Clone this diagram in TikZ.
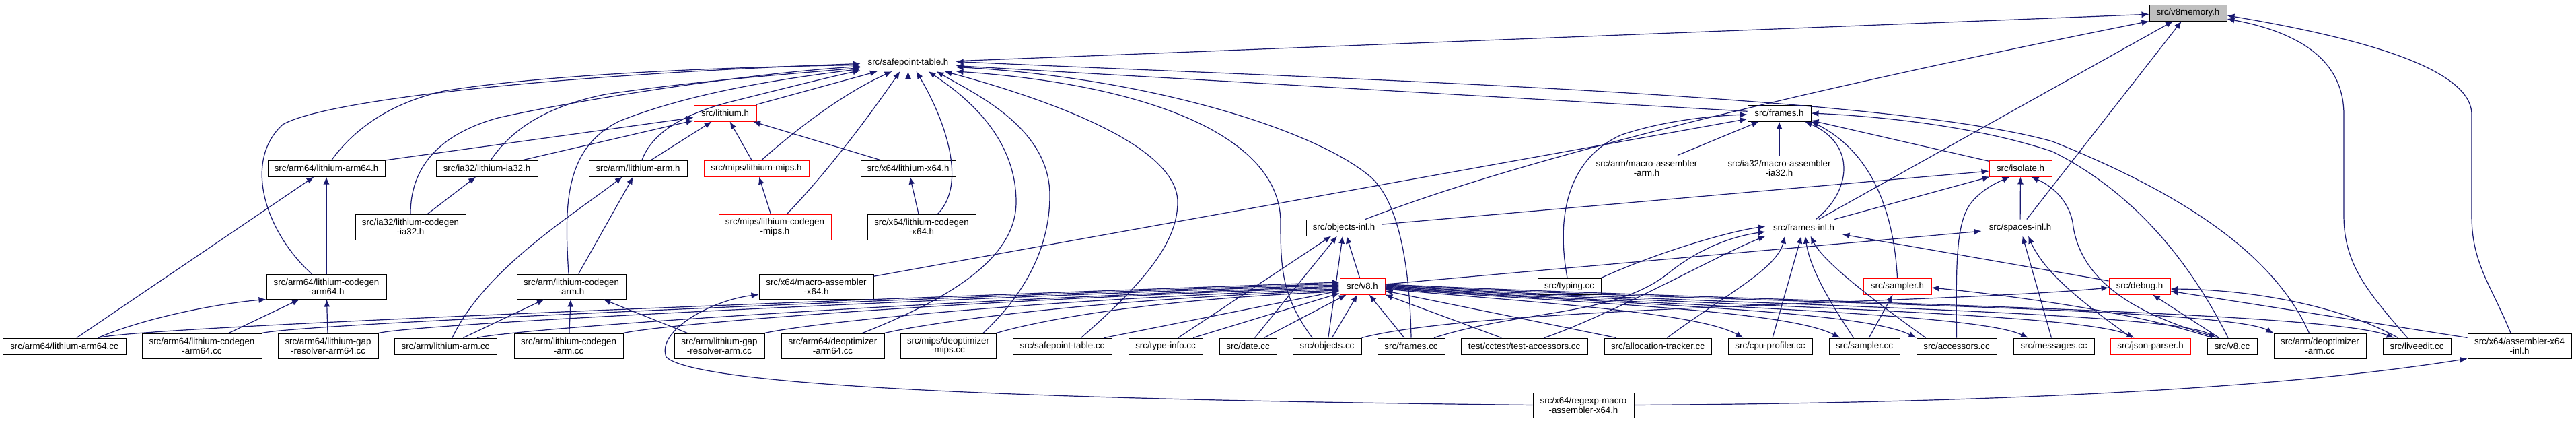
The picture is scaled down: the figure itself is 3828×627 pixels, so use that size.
\documentclass[tikz,border=0pt]{standalone}
\usepackage{fontspec}
\setmainfont{Liberation Sans}
\usetikzlibrary{arrows.meta}
\definecolor{eblue}{HTML}{191970}
\definecolor{ngray}{HTML}{BFBFBF}
\begin{document}
\begin{tikzpicture}[x=0.5pt,y=-0.5pt,
  nd/.style={draw=black, fill=white, line width=0.5pt, inner sep=0pt, align=center,
             font=\fontsize{6.65pt}{6.9pt}\selectfont, text=black},
  rd/.style={nd, draw=red},
  gr/.style={nd, fill=ngray},
  sz/.style 2 args={minimum width=#1*0.5pt, minimum height=#2*0.5pt},
  e/.style={draw=eblue, line width=0.6pt, -{Latex[length=5.5pt,width=4.5pt]}}]
\useasboundingbox (0,0) rectangle (3828,627);
\fill[white] (0,0) rectangle (3828,627);

% ---------------- nodes ----------------
\node[gr, sz={115}{24}] (vm) at (3251.5,19) {src/v8memory.h};
\node[nd, sz={141}{24}] (spt) at (1349.5,93.5) {src/safepoint-table.h};
\node[rd, sz={93}{24}] (lit) at (1077.5,168) {src/lithium.h};
\node[nd, sz={94}{24}] (frh) at (2644,168) {src/frames.h};
\node[nd, sz={174}{24}] (la64h) at (485,250) {src/arm64/lithium-arm64.h};
\node[nd, sz={151}{24}] (lia32h) at (723.5,250) {src/ia32/lithium-ia32.h};
\node[nd, sz={146}{24}] (larmh) at (948,250) {src/arm/lithium-arm.h};
\node[rd, sz={156}{24}] (lmipsh) at (1124,250) {src/mips/lithium-mips.h};
\node[nd, sz={141}{24}] (lx64h) at (1349.5,250) {src/x64/lithium-x64.h};
\node[rd, sz={172}{37}] (maarm) at (2447,249.5) {src/arm/macro-assembler\\-arm.h};
\node[nd, sz={174}{37}] (maia32) at (2644,249.5) {src/ia32/macro-assembler\\-ia32.h};
\node[rd, sz={93}{24}] (iso) at (3002.5,250) {src/isolate.h};
\node[nd, sz={164}{38}] (lcia32) at (610,337) {src/ia32/lithium-codegen\\-ia32.h};
\node[rd, sz={167}{38}] (lcmips) at (1151.5,337) {src/mips/lithium-codegen\\-mips.h};
\node[nd, sz={161}{38}] (lcx64) at (1369.5,337) {src/x64/lithium-codegen\\-x64.h};
\node[nd, sz={112}{24}] (oinl) at (1997,338) {src/objects-inl.h};
\node[nd, sz={113}{24}] (finl) at (2680.5,338) {src/frames-inl.h};
\node[nd, sz={114}{24}] (sinl) at (3002,338) {src/spaces-inl.h};
\node[nd, sz={178}{37}] (lca64) at (485,425.5) {src/arm64/lithium-codegen\\-arm64.h};
\node[nd, sz={162}{37}] (lcarm) at (849,425.5) {src/arm/lithium-codegen\\-arm.h};
\node[nd, sz={170}{37}] (max64) at (1213,425.5) {src/x64/macro-assembler\\-x64.h};
\node[rd, sz={67}{24}] (v8h) at (2024.5,425) {src/v8.h};
\node[nd, sz={94}{24}] (typ) at (2332,425) {src/typing.cc};
\node[rd, sz={101}{24}] (samh) at (2819.5,425) {src/sampler.h};
\node[rd, sz={91}{24}] (dbg) at (3179.5,425) {src/debug.h};
\node[nd, sz={183}{24}] (a64cc) at (95.5,514) {src/arm64/lithium-arm64.cc};
\node[nd, sz={178}{37}] (lca64cc) at (300,513.5) {src/arm64/lithium-codegen\\-arm64.cc};
\node[nd, sz={149}{37}] (gra64cc) at (487.5,513.5) {src/arm64/lithium-gap\\-resolver-arm64.cc};
\node[nd, sz={152}{24}] (armcc) at (662,514) {src/arm/lithium-arm.cc};
\node[nd, sz={162}{37}] (lcarmcc) at (845,513.5) {src/arm/lithium-codegen\\-arm.cc};
\node[nd, sz={134}{37}] (grarmcc) at (1069,513.5) {src/arm/lithium-gap\\-resolver-arm.cc};
\node[nd, sz={153}{37}] (dea64) at (1237.5,513.5) {src/arm64/deoptimizer\\-arm64.cc};
\node[nd, sz={142}{37}] (demips) at (1409,513.5) {src/mips/deoptimizer\\-mips.cc};
\node[nd, sz={147}{24}] (sptcc) at (1578.5,514) {src/safepoint-table.cc};
\node[nd, sz={110}{24}] (tinfo) at (1732,514) {src/type-info.cc};
\node[nd, sz={85}{24}] (date) at (1854.5,514) {src/date.cc};
\node[nd, sz={102}{24}] (objcc) at (1972,514) {src/objects.cc};
\node[nd, sz={100}{24}] (frcc) at (2097,514) {src/frames.cc};
\node[nd, sz={188}{24}] (tacc) at (2265,514) {test/cctest/test-accessors.cc};
\node[nd, sz={159}{24}] (alloc) at (2463.5,514) {src/allocation-tracker.cc};
\node[nd, sz={125}{24}] (cpu) at (2630.5,514) {src/cpu-profiler.cc};
\node[nd, sz={105}{24}] (samcc) at (2770.5,514) {src/sampler.cc};
\node[nd, sz={119}{24}] (acc) at (2907.5,514) {src/accessors.cc};
\node[nd, sz={120}{24}] (msg) at (3052,514) {src/messages.cc};
\node[rd, sz={119}{24}] (json) at (3195.5,514) {src/json-parser.h};
\node[nd, sz={74}{24}] (v8cc) at (3317,514) {src/v8.cc};
\node[nd, sz={137}{37}] (dearm) at (3447.5,513.5) {src/arm/deoptimizer\\-arm.cc};
\node[nd, sz={101}{24}] (live) at (3591.5,514) {src/liveedit.cc};
\node[nd, sz={154}{37}] (asx64) at (3744,513.5) {src/x64/assembler-x64\\-inl.h};
\node[nd, sz={150}{37}] (rex64) at (2353,601.5) {src/x64/regexp-macro\\-assembler-x64.h};

% ---------------- lithium cluster ----------------
\draw[e] (lit) -- (spt);
\draw[e] (la64h) -- (lit);
\draw[e] (lia32h) -- (lit);
\draw[e] (larmh) -- (lit);
\draw[e] (lmipsh) -- (lit);
\draw[e] (lx64h) -- (lit);
\draw[e] (lcia32) -- (lia32h);
\draw[e] (lcmips) -- (lmipsh);
\draw[e] (lcx64) -- (lx64h);
\draw[e] (lca64) -- (la64h);
\draw[e] (lcarm) -- (larmh);
\draw[e] (a64cc) -- (la64h);
\draw[e] (lca64cc) -- (lca64);
\draw[e] (gra64cc) -- (lca64);
\draw[e] (armcc) -- (lcarm);
\draw[e] (lcarmcc) -- (lcarm);
\draw[e] (grarmcc) -- (lcarm);
\draw[e] ([xshift=25pt]a64cc.north) .. controls (220,470) and (330,450) .. (lca64.south west);
\draw[e] ([xshift=5pt]armcc.north) .. controls (720,400) and (850,320) .. ([xshift=-11.5pt]larmh.south);

% ---------------- into safepoint-table.h ----------------
\draw[e] (lx64h) -- (spt);
\draw[e] ([xshift=4pt]lmipsh.north) .. controls (1180,195) and (1250,140) .. ([xshift=-12pt]spt.south);
\draw[e] ([xshift=9pt]lcmips.north) .. controls (1235,250) and (1300,160) .. ([xshift=-6pt]spt.south);
\draw[e] ([xshift=12pt]lcx64.north) .. controls (1440,270) and (1400,170) .. ([xshift=6pt]spt.south);
\draw[e] ([xshift=22pt]dea64.north) .. controls (1420,440) and (1510,380) .. (1510,300) .. controls (1510,200) and (1430,140) .. ([xshift=15pt]spt.south);
\draw[e] ([xshift=26pt]demips.north) .. controls (1530,430) and (1560,360) .. (1560,290) .. controls (1560,190) and (1450,140) .. ([xshift=21pt]spt.south);
\draw[e] ([xshift=14pt]sptcc.north) .. controls (1700,420) and (1750,360) .. (1750,300) .. controls (1750,210) and (1530,140) .. ([xshift=27pt]spt.south);
\draw[e] ([xshift=-11pt]objcc.north) .. controls (1905,440) and (1903,400) .. (1903,330) .. controls (1903,200) and (1700,125) .. (spt.south east);
\draw[e] (frcc.north) .. controls (2095,400) and (2080,300) .. (2036,262) .. controls (1950,190) and (1700,115) .. ([yshift=-3pt]spt.east);
\draw[e] ([xshift=-8pt]dearm.north) .. controls (3380,380) and (3250,290) .. (3050,210) .. controls (2800,140) and (2000,118) .. ([yshift=1pt]spt.east);
\draw[e] ([xshift=-11pt]lca64.north) .. controls (395,345) and (360,240) .. (420,185) .. controls (480,150) and (800,112) .. ([yshift=-0.5pt]spt.west);
\draw[e] ([xshift=4pt]la64h.north) .. controls (520,200) and (570,155) .. (660,135) .. controls (800,112) and (1050,100) .. ([yshift=-1.5pt]spt.west);
\draw[e] (lcia32.north) .. controls (610,250) and (650,200) .. (740,175) .. controls (850,150) and (1100,110) .. ([yshift=-2.5pt]spt.west);
\draw[e] ([xshift=3pt]lia32h.north) .. controls (755,200) and (800,160) .. (900,140) .. controls (1050,118) and (1200,108) .. ([yshift=-3.5pt]spt.west);
\draw[e] ([xshift=-2pt]lcarm.north) .. controls (838,300) and (840,220) .. (920,180) .. controls (1020,140) and (1150,118) .. ([yshift=-4.5pt]spt.west);
\draw[e] ([xshift=3pt]larmh.north) .. controls (968,200) and (1010,170) .. (1090,150) .. controls (1170,130) and (1230,115) .. ([yshift=-5.5pt]spt.west);

% ---------------- frames.h ----------------
\draw[e] (frh) -- (spt);
\draw[e] (maia32) -- (frh);
\draw[e] (maarm) -- (frh);
\draw[e] (iso) -- (frh);
\draw[e] (max64) -- (frh);
\draw[e] ([xshift=9pt]finl.north) .. controls (2750,285) and (2760,215) .. ([xshift=19pt]frh.south);
\draw[e] (samh.north) .. controls (2815,330) and (2790,230) .. (frh.south east);
\draw[e] ([xshift=-3pt]v8cc.north) .. controls (3260,400) and (3180,290) .. (3050,225) .. controls (2930,185) and (2780,172) .. (frh.east);
\draw[e] ([xshift=-1.5pt]typ.north) .. controls (2312,320) and (2330,235) .. (2410,200) .. controls (2470,180) and (2540,172) .. ([yshift=-1pt]frh.west);

% ---------------- v8memory.h ----------------
\draw[e] (spt) -- (vm);
\draw[e] ([xshift=16pt]oinl.north) .. controls (2300,220) and (2800,110) .. (vm.south west);
\draw[e] (finl) -- (vm);
\draw[e] (sinl) -- (vm);
\draw[e] ([xshift=-7pt]live.north) .. controls (3515,430) and (3483,390) .. (3483,320) -- (3483,170) .. controls (3483,80) and (3400,45) .. ([yshift=-4.5pt]vm.east);
\draw[e] ([xshift=-6.5pt]asx64.north) .. controls (3700,420) and (3673,390) .. (3673,320) -- (3673,170) .. controls (3673,100) and (3500,55) .. ([yshift=-2pt]vm.east);

% ---------------- isolate.h ----------------
\draw[e] (oinl) -- (iso);
\draw[e] (finl) -- (iso);
\draw[e] (sinl) -- (iso);
\draw[e] (acc.north) .. controls (2907,400) and (2905,330) .. (2930,300) .. controls (2945,282) and (2965,272) .. ([xshift=-8pt]iso.south);
\draw[e] ([xshift=-10pt]v8cc.north) .. controls (3180,470) and (3090,420) .. (3080,330) .. controls (3072,290) and (3040,272) .. ([xshift=8pt]iso.south);

% ---------------- spaces-inl.h ----------------
\draw[e] (v8h) -- (sinl);
\draw[e] (msg) -- (sinl);
\draw[e] ([xshift=-14pt]json.north) .. controls (3110,460) and (3040,410) .. ([xshift=6pt]sinl.south);

% ---------------- frames-inl.h ----------------
\draw[e] (dbg) -- (finl);
\draw[e] (cpu) -- (finl);
\draw[e] ([xshift=-8pt]samcc.north) .. controls (2720,450) and (2690,400) .. ([xshift=1pt]finl.south);
\draw[e] ([xshift=-23pt]acc.north) .. controls (2790,450) and (2710,390) .. ([xshift=5pt]finl.south);
\draw[e] ([xshift=7pt]alloc.north) .. controls (2560,440) and (2640,400) .. ([xshift=-14pt]finl.south);
\draw[e] ([xshift=15pt]tacc.north) .. controls (2400,465) and (2550,380) .. (finl.south west);
\draw[e] (typ.north east) .. controls (2450,380) and (2560,345) .. ([yshift=1pt]finl.west);
\draw[e] ([xshift=17pt]frcc.north) .. controls (2260,460) and (2400,470) .. (2480,405) .. controls (2530,365) and (2580,350) .. ([yshift=-3pt]finl.west);

% ---------------- sampler.h ----------------
\draw[e] (samcc) -- (samh);
\draw[e] ([xshift=-15pt]v8cc.north) .. controls (3180,465) and (3000,440) .. ([yshift=-1pt]samh.east);

% ---------------- debug.h ----------------
\draw[e] (objcc.north east) .. controls (2200,455) and (2900,450) .. ([yshift=-1pt]dbg.west);
\draw[e] (v8cc) -- (dbg);
\draw[e] ([xshift=-14pt]live.north) .. controls (3480,455) and (3350,430) .. ([yshift=-2pt]dbg.east);
\draw[e] (asx64) -- (dbg);

% ---------------- x64 ----------------
\draw[e] (rex64.west) .. controls (1700,595) and (1040,580) .. (990,530) .. controls (975,490) and (1060,445) .. ([yshift=-6pt]max64.west);
\draw[e] (rex64.east) .. controls (3000,598) and (3400,575) .. (asx64.south west);

% ---------------- v8.h ----------------
\draw[e] (v8h) -- (oinl);
\draw[e] (tinfo) -- (oinl);
\draw[e] (date) -- (oinl);
\draw[e] (objcc) -- (oinl);
\draw[e] (tinfo) -- (v8h);
\draw[e] (sptcc) -- (v8h);
\draw[e] (date) -- (v8h);
\draw[e] (objcc) -- (v8h);
\draw[e] (frcc) -- (v8h);
\draw[e] (tacc) -- (v8h);
\draw[e] (alloc) -- (v8h);
\draw[e] ([xshift=25pt]a64cc.north) .. controls +(60,-15) and +(-1000,36) .. ([yshift=3pt]v8h.west);
\draw[e] (lca64cc.north east) .. controls +(50,-12) and +(-900,32) .. ([yshift=2pt]v8h.west);
\draw[e] (gra64cc.north east) .. controls +(50,-12) and +(-800,28) .. ([yshift=1pt]v8h.west);
\draw[e] ([xshift=23.5pt]armcc.north) .. controls +(50,-12) and +(-700,25) .. (v8h.west);
\draw[e] (lcarmcc.north east) .. controls +(50,-12) and +(-600,20) .. ([yshift=-1pt]v8h.west);
\draw[e] (grarmcc.north east) .. controls +(50,-12) and +(-500,18) .. ([yshift=-2pt]v8h.west);
\draw[e] (dea64.north east) .. controls +(50,-12) and +(-400,15) .. ([yshift=-3pt]v8h.west);
\draw[e] (demips.north east) .. controls +(50,-15) and +(-300,12) .. ([yshift=-4pt]v8h.west);
\draw[e] ([yshift=-2pt]v8h.east) .. controls (2250,447) and (2520,462) .. ([xshift=-20pt]cpu.north);
\draw[e] ([yshift=-1.5pt]v8h.east) .. controls (2300,448) and (2650,458) .. ([xshift=-18pt]samcc.north);
\draw[e] ([yshift=-1pt]v8h.east) .. controls (2350,450) and (2760,458) .. (acc.north west);
\draw[e] ([yshift=-0.5pt]v8h.east) .. controls (2400,452) and (2930,462) .. ([xshift=-19pt]msg.north);
\draw[e] (v8h.east) .. controls (2450,452) and (3090,462) .. ([xshift=-12pt]json.north);
\draw[e] ([yshift=0.5pt]v8h.east) .. controls (2500,452) and (3220,460) .. ([xshift=-12pt]v8cc.north);
\draw[e] ([yshift=1pt]v8h.east) .. controls (2550,450) and (3300,455) .. (dearm.north west);
\draw[e] ([yshift=1.5pt]v8h.east) .. controls (2600,448) and (3450,460) .. ([xshift=-17pt]live.north);
\end{tikzpicture}
\end{document}
